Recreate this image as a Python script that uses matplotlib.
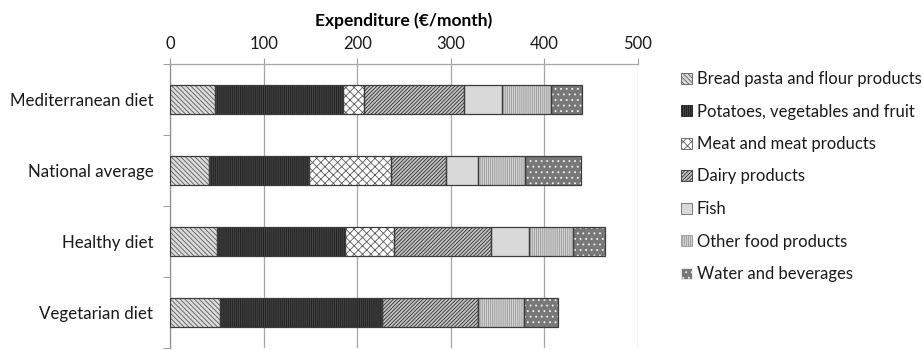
import matplotlib
matplotlib.use("Agg")
import matplotlib.pyplot as plt
from matplotlib.patches import Patch
import numpy as np

plt.rcParams['font.family'] = ['Lato', 'DejaVu Sans']
plt.rcParams['hatch.linewidth'] = 0.6

diets = ["Mediterranean diet", "National average", "Healthy diet", "Vegetarian diet"]
groups = ["Bread pasta and flour products", "Potatoes, vegetables and fruit",
          "Meat and meat products", "Dairy products", "Fish",
          "Other food products", "Water and beverages"]

bread = [48, 42, 50, 53]
potatoes = [137, 106, 137, 173]
meat = [22, 88, 52, 0]
dairy = [107, 59, 104, 103]
fish = [41, 34, 41, 0]
other = [52, 50, 47, 49]
water = [33, 60, 34, 36]
series = [bread, potatoes, meat, dairy, fish, other, water]

x_ticks = [0, 100, 200, 300, 400, 500]

# face colour, hatch pattern, hatch colour
styles = [
    ("#dcdcdc", "\\" * 7, "#5a5a5a"),
    ("#444444", "|" * 8, "#1c1c1c"),
    ("#ffffff", "xxxx", "#5a5a5a"),
    ("#c4c4c4", "/" * 9, "#2e2e2e"),
    ("#d9d9d9", "", "#6a6a6a"),
    ("#d2d2d2", "|" * 8, "#9a9a9a"),
    ("#787878", "...", "#f2f2f2"),
]

fig = plt.figure(figsize=(9.23, 3.5), dpi=100)
ax = fig.add_axes([170 / 923, 2 / 350, 468 / 923, 284 / 350])

y = np.arange(len(diets))
left = np.zeros(len(diets))
handles = []
for vals, (fc, hatch, hc), name in zip(series, styles, groups):
    vals = np.array(vals, dtype=float)
    ax.barh(y, vals, left=left, height=0.41, color=fc, edgecolor=hc,
            hatch=hatch, linewidth=0, zorder=3)
    ax.barh(y, vals, left=left, height=0.41, fill=False,
            edgecolor="#3c3c3c", linewidth=0.9, zorder=4)
    left += vals
    handles.append(Patch(facecolor=fc, edgecolor=hc, hatch=hatch, linewidth=0.6))

ax.set_ylim(len(diets) - 0.5, -0.5)
ax.set_xlim(0, 500)
ax.set_xticks(x_ticks)
ax.xaxis.tick_top()
ax.xaxis.set_label_position("top")
ax.set_xlabel("Expenditure (€/month)", fontsize=12.5, fontweight="bold", labelpad=7)
ax.tick_params(axis="x", which="major", length=4, color="#a0a0a0",
               labelsize=12, pad=5, labelcolor="#1a1a1a")

ax.set_yticks(y)
ax.set_yticklabels(diets)
ax.set_yticks(np.arange(-0.5, len(diets), 1.0), minor=True)
ax.tick_params(axis="y", which="major", length=0, labelsize=12.2, pad=12,
               labelcolor="#1a1a1a")
ax.tick_params(axis="y", which="minor", length=5, color="#909090")

ax.grid(axis="x", color="#a6a6a6", linewidth=0.9, zorder=0)
ax.set_axisbelow(True)
for s in ["right", "bottom"]:
    ax.spines[s].set_visible(False)
ax.spines["top"].set_color("#a6a6a6")
ax.spines["left"].set_color("#909090")
ax.spines["top"].set_linewidth(0.9)
ax.spines["left"].set_linewidth(0.9)

fig.legend(handles, groups, loc="upper left", bbox_to_anchor=(681 / 923, 1 - 71 / 350),
           frameon=False, fontsize=12, handlelength=0.65, handleheight=0.65,
           handletextpad=0.3, labelspacing=0.99, borderaxespad=0, borderpad=0,
           labelcolor="#1a1a1a")

fig.savefig("out.png", dpi=100)
